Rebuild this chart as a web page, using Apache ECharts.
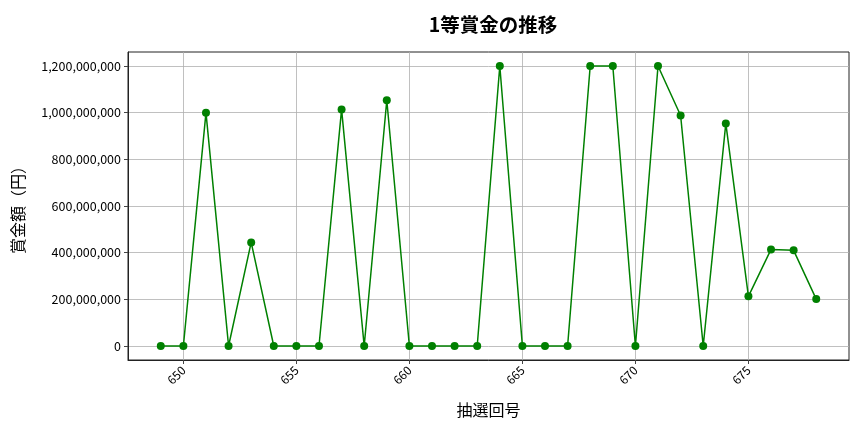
<!DOCTYPE html>
<html><head><meta charset="utf-8">
<script src="https://cdn.jsdelivr.net/npm/echarts@6/dist/echarts.min.js"></script>
<style>html,body{margin:0;padding:0;background:#fff}#c{width:864px;height:432px}</style>
</head><body><div id="c"></div>
<script>
const draws = [649,650,651,652,653,654,655,656,657,658,659,660,661,662,663,664,665,666,667,668,669,670,671,672,673,674,675,676,677,678];
const prizes = [0,0,1000000000,0,444000000,0,0,0,1014000000,0,1053000000,0,0,0,0,1200000000,0,0,0,1200000000,1200000000,0,1200000000,988000000,0,954000000,213000000,414000000,410000000,201000000];
const xTicks = [650,655,660,665,670,675];
const yTicks = [0,200000000,400000000,600000000,800000000,1000000000,1200000000];
const FONT = '"Noto Sans CJK JP","Noto Sans",sans-serif';
const chart = echarts.init(document.getElementById('c'));
chart.setOption({
  animation:false,
  title:{text:'1等賞金の推移',left:488,top:10,textAlign:'center',textStyle:{fontFamily:FONT,fontSize:19.5,fontWeight:'bold',color:'#000'}},
  grid:{left:128,right:15,top:52,bottom:72,outerBoundsMode:'none',containLabel:false,show:true,borderColor:'#222',borderWidth:1},
  xAxis:{type:'value',min:647.55,max:679.45,
    name:'抽選回号',nameLocation:'middle',nameGap:42,nameTextStyle:{fontFamily:FONT,fontSize:16,color:'#000'},
    axisLine:{show:true,onZero:false,lineStyle:{color:'#222'}},
    axisTick:{show:true,customValues:xTicks,length:4,lineStyle:{color:'#444'}},
    axisLabel:{customValues:xTicks,rotate:45,fontFamily:FONT,fontSize:12,color:'#000',margin:8},
    splitLine:{show:true,lineStyle:{color:'#b0b0b0',width:0.8}}},
  yAxis:{type:'value',min:-60000000,max:1260000000,
    name:'賞金額（円）',nameLocation:'middle',nameGap:102,nameRotate:90,nameTextStyle:{fontFamily:FONT,fontSize:16,color:'#000'},
    axisLine:{show:true,onZero:false,lineStyle:{color:'#222'}},
    axisTick:{show:true,customValues:yTicks,length:4,lineStyle:{color:'#444'}},
    axisLabel:{customValues:yTicks,fontFamily:FONT,fontSize:12.5,color:'#000',margin:7,
      formatter:v=>Math.round(v).toLocaleString('en-US')},
    splitLine:{show:true,lineStyle:{color:'#b0b0b0',width:0.8}}},
  series:[{type:'line',data:draws.map((d,i)=>[d,prizes[i]]),
    symbol:'circle',symbolSize:8,showAllSymbol:true,
    lineStyle:{color:'#008000',width:1.5},itemStyle:{color:'#008000'}}]
});
</script></body></html>
